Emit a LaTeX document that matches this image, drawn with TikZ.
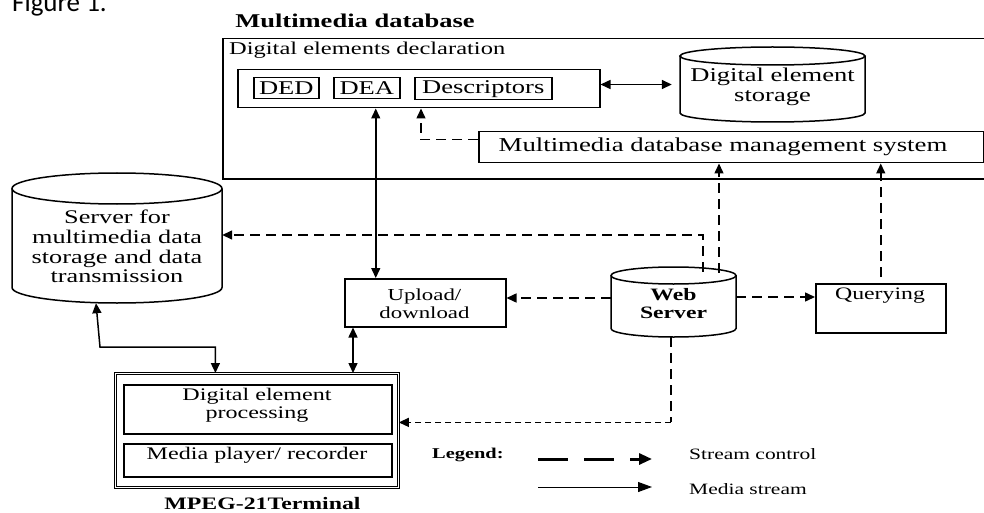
\documentclass[tikz,border=0pt]{standalone}
\usepackage{fontspec}
\setmainfont[FakeStretch=1.36]{Liberation Serif}
\newfontfamily\figfont{Carlito}
\usetikzlibrary{arrows.meta,calc}
\newcommand\fsz[2]{\fontsize{#1}{#2}\selectfont}
% name, cx, ytop, ybot, rx, ry
\newcommand\cyl[6]{%
  \draw[line width=1.5pt] (#2-#5,#3+#6) -- (#2-#5,#4-#6)
     arc[start angle=180,end angle=360,x radius=#5pt,y radius=#6pt] -- (#2+#5,#3+#6);
  \draw[line width=1.5pt] (#2,#3+#6) ellipse[x radius=#5pt,y radius=#6pt];
  \node[inner sep=0pt, minimum width=2*#5pt, minimum height=(#4-#3)*1pt] (#1) at (#2,{(#3+#4)/2}) {};
}
\tikzset{
  arw/.tip={Triangle[length=10pt,width=9pt]},
  box/.style={draw, line width=1.5pt, inner sep=0pt, anchor=north west},
  ctl/.style={line width=1.5pt, dash pattern=on 10pt off 6pt, -arw},
  both/.style={line width=1.5pt, arw-arw},
  txt/.style={inner sep=0pt, align=center},
}
\begin{document}
\begin{tikzpicture}[x=1pt,y=-1pt]
\useasboundingbox (0,0) rectangle (984,513);

\node[anchor=base west, inner sep=0pt, font=\figfont\fsz{27}{30}] (figlbl) at (12,12) {Figure 1.};

% Multimedia database
\node[txt, font=\bfseries\fsz{19.5}{22}] (mmtitle) at (355,21) {Multimedia database};
\node[box, minimum width=780pt, minimum height=140pt] (mmdb) at (222,38) {};
\node[txt, anchor=west, font=\fsz{18}{20}] (declbl) at (229,50) {Digital elements declaration};
\node[box, minimum width=362pt, minimum height=38pt] (grp) at (237,69) {};
\node[box, minimum width=65pt, minimum height=21pt, font=\fsz{19.5}{22}] (ded) at (253,77) {DED};
\node[box, minimum width=66pt, minimum height=21pt, font=\fsz{19.5}{22}] (dea) at (333,77) {DEA};
\node[box, minimum width=137pt, minimum height=22pt, font=\fsz{19.5}{22}] (desc) at (414,77) {Descriptors};
\cyl{stor}{772.5}{47}{122}{92.5}{9}
\node[txt, font=\fsz{19.5}{20}] (storlbl) at (772.5,87) {Digital element\\storage};
\node[box, minimum width=505pt, minimum height=31pt] (mdbms) at (478,131) {};
\node[txt, font=\fsz{19.7}{22}] (mdbmslbl) at (723,147) {Multimedia database management system};

% Server
\cyl{srv}{117}{173}{303}{105}{15.5}
\node[txt, font=\fsz{19.3}{19.7}] (srvlbl) at (117,246.5) {Server for\\multimedia data\\storage and data\\transmission};

% Web server
\cyl{ws}{673.5}{267}{337}{62.5}{8.5}
\node[txt, font=\bfseries\fsz{17.4}{18}] (wslbl) at (673.5,304) {Web\\Server};

% Upload / Querying
\node[box, minimum width=161pt, minimum height=48pt] (upld) at (344,278) {};
\node[txt, font=\fsz{16.8}{18}] (upldlbl) at (424.5,304) {Upload/\\download};
\node[box, minimum width=130pt, minimum height=49pt] (qry) at (815,283) {};
\node[txt, font=\fsz{17.5}{20}] (qrylbl) at (880,296) {Querying};

% Terminal
\node[box, line width=0.8pt, double, double distance=1pt, minimum width=283pt, minimum height=114pt] (term) at (115,373) {};
\node[box, minimum width=268pt, minimum height=49pt] (dep) at (123,384) {};
\node[txt, font=\fsz{17.7}{18}] (deplbl) at (257,405) {Digital element\\processing};
\node[box, minimum width=268pt, minimum height=33pt] (mpr) at (123,443) {};
\node[txt, font=\fsz{17.7}{20}] (mprlbl) at (257,455) {Media player/ recorder};
\node[txt, font=\bfseries\fsz{17.5}{20}] (termlbl) at (262.5,504) {MPEG-21Terminal};

% connectors
\draw[both] (stor.west -| grp.east) -- ([xshift=-8pt]stor.west);
\draw[both] ([xshift=9pt]dea.south |- grp.south) -- ([xshift=9pt]dea.south |- upld.north);
\draw[ctl] ([yshift=7.5pt]mdbms.west) -| ([xshift=7pt]desc.west |- grp.south);
\draw[ctl] ([xshift=45.5pt,yshift=-6pt]ws.north) -- ([xshift=45.5pt]ws.north |- mdbms.south);
\draw[ctl] ([xshift=29.5pt,yshift=-5pt]ws.north) |- ([yshift=3pt]srv.east);
\draw[ctl] ([yshift=4pt]ws.west) -- ([yshift=4pt]ws.west -| upld.east);
\draw[ctl] ([yshift=5pt]ws.east) -- ([yshift=5pt]ws.east -| qry.west);
\draw[ctl] ([yshift=6pt]qry.north) -- (qry.north |- mdbms.south);
\coordinate (tin) at ([yshift=8pt]term.east);
\draw[line width=1.5pt, dash pattern=on 10pt off 6pt] ([xshift=-2.5pt]ws.south) -- ([xshift=-2.5pt]ws.south |- tin) coordinate (wsc);
\draw[line width=1.3pt, dash pattern=on 6pt off 4pt, -arw] (wsc) -- (tin);
\draw[both] ([xshift=-21pt]srv.south) -- ([xshift=-17pt,yshift=-44pt]srv.south) -| ([xshift=-41.5pt]term.north);
\draw[both] ([xshift=9pt]upld.south west) -- ([xshift=9pt]upld.south west |- term.north);

% legend
\node[txt, anchor=west, font=\bfseries\fsz{15}{18}] (leglbl) at (432,455) {Legend:};
\coordinate (l1a) at (538,459);
\coordinate (l1b) at (652,459);
\coordinate (l2a) at (538,487);
\coordinate (l2b) at (652,487);
\draw[line width=3pt, dash pattern=on 30pt off 16pt, -{Triangle[length=13pt,width=11pt]}] (l1a) -- (l1b);
\draw[line width=1pt, -{Triangle[length=14pt,width=10pt]}] (l2a) -- (l2b);
\node[txt, anchor=west, font=\fsz{15.8}{18}] (sclbl) at (689,454) {Stream control};
\node[txt, anchor=west, font=\fsz{15.8}{18}] (mslbl) at (689,489) {Media stream};
\end{tikzpicture}
\end{document}
